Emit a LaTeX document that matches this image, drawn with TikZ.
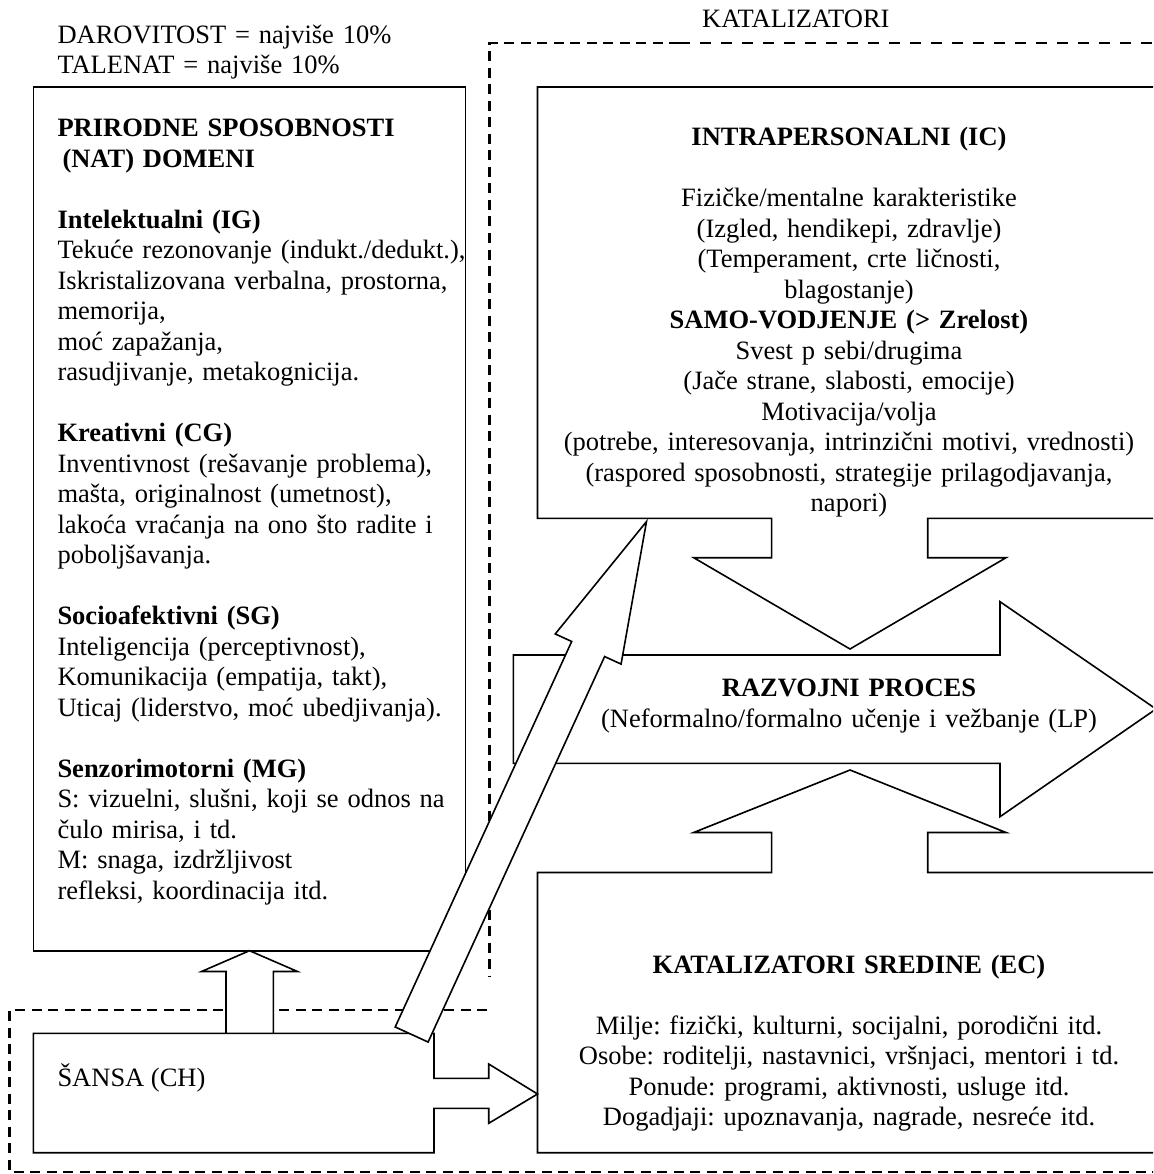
\documentclass[tikz,border=0pt]{standalone}
\usepackage{fontspec}
\setmainfont{Liberation Serif}
\newcommand\tallstrut{\rule{0pt}{25pt}}
\begin{document}
\begin{tikzpicture}[x=1pt,y=-1pt,
  box/.style={draw=black, line width=1.6pt, fill=white, line join=miter},
  thickdash/.style={draw=black, line width=2.5pt, dash pattern=on 10pt off 6.5pt},
  thindash/.style={draw=black, line width=1.3pt, dash pattern=on 11pt off 10pt},
  txt/.style={inner sep=0pt, font=\fontsize{26.5}{30.5}\selectfont\frenchspacing},
  leftblock/.style={txt, anchor=north west, align=left},
  midblock/.style={txt, anchor=north, align=center}]

\path[use as bounding box] (0,0) rectangle (1153,1174);
\fill[white] (0,0) rectangle (1153,1174);
\clip (0,0) rectangle (1153,1174);

% dashed frames of the catalysts and of chance
\draw[thickdash] (679,43) -- (489.5,43) -- (489.5,977);
\draw[thindash] (679,43) -- (1153,43);
\draw[thickdash] (487,1010) -- (9.5,1010) -- (9.5,1172) -- (1160,1172);

% natural abilities box
\draw[box] (33.3,87) rectangle (465.5,950.7);

% intrapersonal catalysts with arrow down to the process
\draw[box] (1165,87) -- (537.5,87) -- (537.5,518.3) -- (771.6,518.3) -- (771.6,557.7)
  -- (693.7,557.7) -- (850,649) -- (1006,557.7) -- (927.7,557.7) -- (927.7,518.3) -- (1165,518.3);

% developmental process arrow
\draw[box] (513.3,655) -- (1000,655) -- (1000,601.7) -- (1156,709) -- (1000,816.7)
  -- (1000,763.3) -- (513.3,763.3) -- cycle;

% environmental catalysts with arrow up to the process
\draw[box] (1165,1152.7) -- (537.5,1152.7) -- (537.5,872.5) -- (771.6,872.5) -- (771.6,832.5)
  -- (693.7,832.5) -- (850,770) -- (1006,832.5) -- (927.7,832.5) -- (927.7,872.5) -- (1165,872.5);

% arrow from chance up to natural abilities
\draw[box] (226,1033.3) -- (226,971.5) -- (201.5,971.5) -- (249.5,950.7) -- (297.5,971.5)
  -- (273.3,971.5) -- (273.3,1033.3);

% chance box with arrow to the environment
\draw[box] (33.3,1033.3) -- (434,1033.3) -- (434,1078.3) -- (488.7,1078.3) -- (488.7,1064)
  -- (537.5,1094) -- (488.7,1123.3) -- (488.7,1108.3) -- (434,1108.3) -- (434,1152.7)
  -- (33.3,1152.7) -- cycle;

% slanted arrow from chance to the intrapersonal catalysts
\coordinate (slanttail) at (411.65,1034.5);
\begin{scope}[shift={(slanttail)}, rotate=65.4]
  \draw[box] (0,-18.1) -- (424,-18.1) -- (424,-36.2) -- (564.2,0) -- (424,36.2)
    -- (424,18.1) -- (0,18.1) -- cycle;
  \coordinate (slanttip) at (564.2,0);
\end{scope}

% labels
\node[txt, anchor=base west] (katal) at (702,27.3) {KATALIZATORI};
\node[leftblock, text width=420pt] (limits) at (57.3,18.3)
  {\tallstrut DAROVITOST = najviše 10\%\\TALENAT = najviše 10\%};

\node[leftblock, text width=460pt] (nat) at (57.3,111.7) {\tallstrut\textbf{PRIRODNE SPOSOBNOSTI}\\
\hspace*{5pt}\textbf{(NAT) DOMENI}\\[30.5pt]
\textbf{Intelektualni (IG)}\\
Tekuće rezonovanje (indukt./dedukt.),\\
Iskristalizovana verbalna, prostorna,\\
memorija,\\
moć zapažanja,\\
rasudjivanje, metakognicija.\\[30.5pt]
\textbf{Kreativni (CG)}\\
Inventivnost (rešavanje problema),\\
mašta, originalnost (umetnost),\\
lakoća vraćanja na ono što radite i\\
poboljšavanja.\\[30.5pt]
\textbf{Socioafektivni (SG)}\\
Inteligencija (perceptivnost),\\
Komunikacija (empatija, takt),\\
Uticaj (liderstvo, moć ubedjivanja).\\[30.5pt]
\textbf{Senzorimotorni (MG)}\\
S: vizuelni, slušni, koji se odnos na\\
čulo mirisa, i td.\\
M: snaga, izdržljivost\\
refleksi, koordinacija itd.};

\node[midblock, text width=640pt] (ic) at (849,120.7) {\tallstrut\textbf{INTRAPERSONALNI (IC)}\\[30.5pt]
Fizičke/mentalne karakteristike\\
(Izgled, hendikepi, zdravlje)\\
(Temperament, crte ličnosti,\\
blagostanje)\\
\textbf{SAMO-VODJENJE (> Zrelost)}\\
Svest p sebi/drugima\\
(Jače strane, slabosti, emocije)\\
Motivacija/volja\\
(potrebe, interesovanja, intrinzični motivi, vrednosti)\\
(raspored sposobnosti, strategije prilagodjavanja,\\
napori)};

\node[midblock, text width=560pt] (lp) at (849,671.7) {\tallstrut\textbf{RAZVOJNI PROCES}\\
(Neformalno/formalno učenje i vežbanje (LP)};

\node[midblock, text width=600pt] (ec) at (849,948) {\tallstrut\textbf{KATALIZATORI SREDINE (EC)}\\[30.5pt]
Milje: fizički, kulturni, socijalni, porodični itd.\\
Osobe: roditelji, nastavnici, vršnjaci, mentori i td.\\
Ponude: programi, aktivnosti, usluge itd.\\
Dogadjaji: upoznavanja, nagrade, nesreće itd.};

\node[txt, anchor=base west] (ch) at (57.3,1086.7) {ŠANSA (CH)};
\end{tikzpicture}
\end{document}
